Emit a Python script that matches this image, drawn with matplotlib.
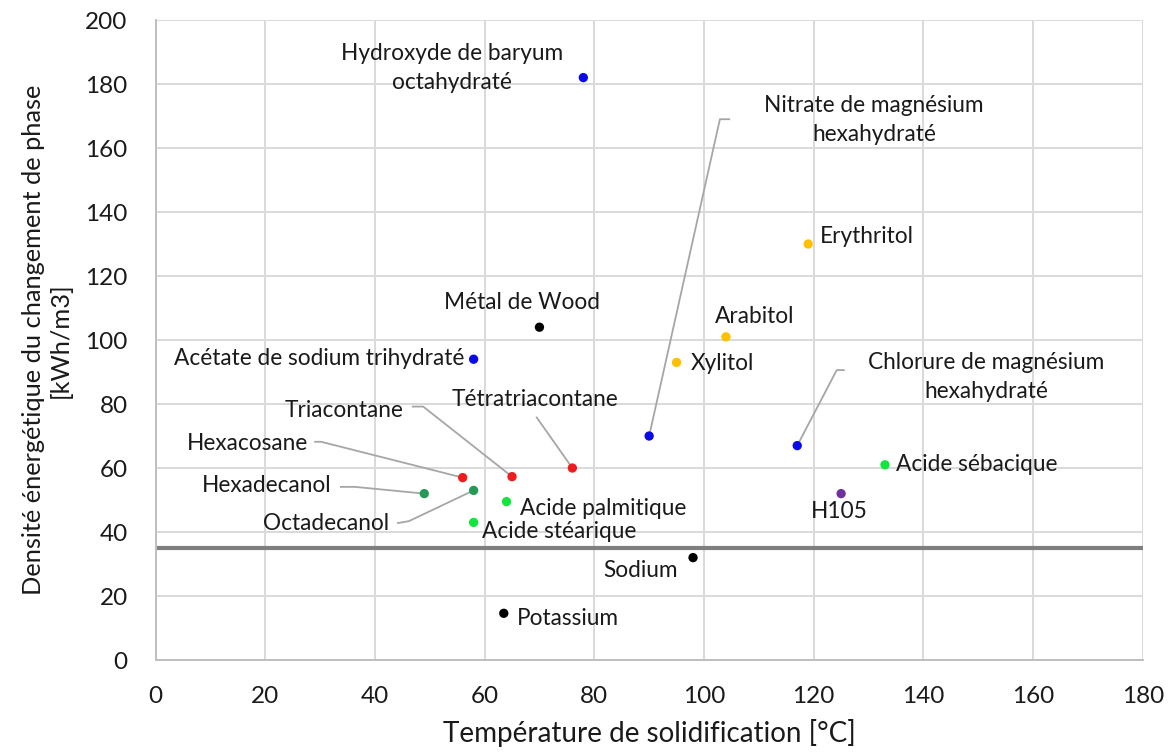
import matplotlib
matplotlib.use("Agg")
import matplotlib.pyplot as plt

# --- DATA ---
materials = [
    "Hydroxyde de baryum\noctahydraté", "Nitrate de magnésium\nhexahydraté",
    "Erythritol", "Arabitol", "Xylitol", "Chlorure de magnésium\nhexahydraté",
    "Acide sébacique", "H105", "Métal de Wood", "Acétate de sodium trihydraté",
    "Tétratriacontane", "Triacontane", "Hexacosane", "Hexadecanol",
    "Octadecanol", "Acide palmitique", "Acide stéarique", "Sodium", "Potassium",
]
temperature = [78, 90, 119, 104, 95, 117, 133, 125, 70, 58,
               76, 65, 56, 49, 58, 64, 58, 98, 63.5]
density = [182, 70, 130, 101, 93, 67, 61, 52, 104, 94,
           60, 57.3, 57, 52, 53, 49.5, 43, 32, 14.6]
family = ["hydrate", "hydrate", "polyol", "polyol", "polyol", "hydrate",
          "acide", "autre", "metal", "hydrate",
          "paraffine", "paraffine", "paraffine", "alcool",
          "alcool", "acide", "acide", "metal", "metal"]
threshold = 35

# --- STYLE ---
COLORS = {"hydrate": "#0A0AE6", "polyol": "#FFC000", "acide": "#12E63C",
          "autre": "#7030A0", "metal": "#000000", "paraffine": "#EE1C1C",
          "alcool": "#239B56"}
LEADER = "#A6A6A6"
FONT = "Lato"

# label placement: (x, y, ha) in data units, optional leader path
label_pos = {
    "Hydroxyde de baryum\noctahydraté": (54.1, 185, "center", None),
    "Nitrate de magnésium\nhexahydraté": (131, 168.7, "center", [(104.6, 169), (102.9, 169)]),
    "Erythritol": (121.2, 132.5, "left", None),
    "Arabitol": (109.3, 107.5, "center", None),
    "Xylitol": (97.5, 92.7, "left", None),
    "Chlorure de magnésium\nhexahydraté": (151.4, 88.5, "center", [(125.5, 90.6), (124.2, 90.6)]),
    "Acide sébacique": (135.0, 61.0, "left", None),
    "H105": (124.7, 46.3, "center", None),
    "Métal de Wood": (66.9, 111.7, "center", None),
    "Acétate de sodium trihydraté": (56.3, 94.3, "right", None),
    "Tétratriacontane": (69.2, 81.5, "center", [(69.5, 75.8)]),
    "Triacontane": (45.2, 78.1, "right", [(46.9, 79.2), (48.8, 79.2)]),
    "Hexacosane": (27.9, 67.7, "right", [(29.1, 68.2), (30.2, 68.2)]),
    "Hexadecanol": (32.1, 54.6, "right", [(33.8, 54.1), (36.4, 54.1)]),
    "Octadecanol": (42.6, 42.7, "right", [(44.2, 42.8), (46.2, 43.4)]),
    "Acide palmitique": (66.5, 47.4, "left", None),
    "Acide stéarique": (59.6, 40.1, "left", None),
    "Sodium": (95.3, 28.1, "right", None),
    "Potassium": (65.8, 13.0, "left", None),
}

fig = plt.figure(figsize=(11.71, 7.55), dpi=100)
ax = fig.add_axes([0.1328, 0.1258, 0.8431, 0.8477])

ax.set_xlim(0, 180)
ax.set_ylim(0, 200)
ax.set_xticks(range(0, 181, 20))
ax.set_yticks(range(0, 201, 20))
ax.grid(True, color="#D9D9D9", linewidth=1.4, zorder=0)
ax.set_axisbelow(True)
for side in ["top", "right"]:
    ax.spines[side].set_visible(False)
for side in ["left", "bottom"]:
    ax.spines[side].set_color("#BFBFBF")
    ax.spines[side].set_linewidth(1.4)
ax.tick_params(length=0, labelsize=17.5, colors="#1A1A1A")
ax.tick_params(axis="x", pad=19)
ax.tick_params(axis="y", pad=20)
for lab in ax.get_xticklabels() + ax.get_yticklabels():
    lab.set_fontfamily(FONT)

ax.axhline(threshold, color="#7F7F7F", linewidth=3, zorder=1)

# leader lines, drawn under the dots
for name, t, d in zip(materials, temperature, density):
    x, y, ha, path = label_pos[name]
    if path:
        xs = [p[0] for p in path] + [t]
        ys = [p[1] for p in path] + [d]
        ax.plot(xs, ys, color=LEADER, linewidth=1.3, zorder=2)

ax.scatter(temperature, density, s=45, c=[COLORS[f] for f in family],
           zorder=3, linewidths=0)

for name in materials:
    x, y, ha, path = label_pos[name]
    ax.text(x, y, name, ha=ha, va="center", fontsize=16.3, family=FONT,
            color="#1A1A1A", linespacing=1.45, zorder=4)

ax.set_xlabel("Température de solidification [°C]", fontsize=20,
              family=FONT, color="#1A1A1A", labelpad=8)
ax.set_ylabel("Densité énergétique du changement de phase\n[kWh/m3]",
              fontsize=18.3, family=FONT, color="#1A1A1A", labelpad=10,
              linespacing=1.2)

fig.savefig("out.png", dpi=100)
